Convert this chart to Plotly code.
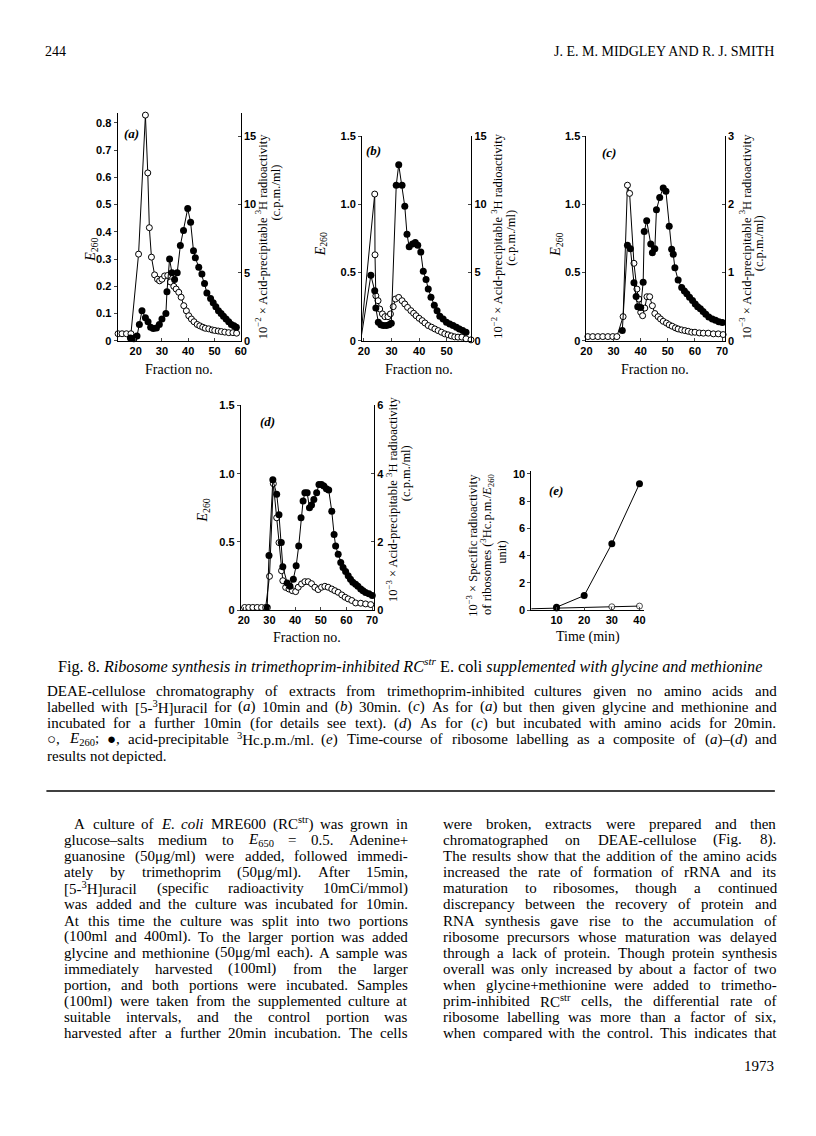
import re
import plotly.graph_objects as go

# ---------------- data ----------------
# (a) 10 min label: E260 (open) and 10^-2 x c.p.m./ml (filled)
frac_a_open = [13.3, 14.8, 16.5, 18.2, 21.1, 23.7, 24.6, 25.2, 26.0, 27.2, 28.3, 29.1, 30.0, 31.0,
               32.2, 33.2, 34.5, 35.4, 36.4, 37.3, 38.3, 39.3, 40.2, 41.2, 42.2, 43.4, 44.4, 45.5,
               46.5, 47.8, 49.1, 50.1, 51.4, 52.6, 53.9, 55.4, 57.0, 58.4]
e260_a = [0.026, 0.026, 0.026, 0.026, 0.318, 0.828, 0.616, 0.415, 0.307, 0.242, 0.226, 0.22, 0.226,
          0.238, 0.24, 0.216, 0.2, 0.19, 0.178, 0.16, 0.129, 0.11, 0.092, 0.08, 0.07, 0.06, 0.055,
          0.05, 0.046, 0.044, 0.04, 0.038, 0.036, 0.034, 0.032, 0.03, 0.03, 0.028]
frac_a_fill = [18.0, 19.3, 20.5, 21.4, 22.4, 23.7, 24.7, 25.7, 26.7, 27.9, 29.0, 30.0, 31.5, 31.9,
               32.9, 33.8, 34.8, 35.8, 37.0, 38.2, 39.8, 40.9, 42.0, 42.7, 44.0, 45.2, 46.2, 47.1,
               48.5, 49.5, 50.5, 51.5, 52.5, 53.4, 54.4, 55.4, 56.4, 57.4, 58.3]
cpm_a = [0.2, 0.15, 0.35, 1.2, 2.2, 1.7, 1.4, 1.0, 0.9, 0.95, 1.2, 1.6, 2.0, 3.6, 6.0, 5.0, 4.5, 5.0,
         7.0, 8.1, 9.7, 8.7, 6.6, 6.1, 5.4, 4.9, 4.2, 3.5, 3.1, 2.8, 2.5, 2.2, 2.0, 1.8, 1.6, 1.4,
         1.2, 1.1, 1.0]

# (b) 30 min label
frac_b_open = [18.9, 23.9, 24.0, 24.3, 25.1, 25.7, 26.7, 27.6, 28.7, 29.6, 30.6, 31.4, 32.6, 33.8,
               34.8, 35.8, 37.0, 38.0, 38.9, 40.0, 41.1, 42.1, 43.3, 44.5, 45.7, 46.9, 48.1, 49.3,
               50.5, 51.7, 52.9, 54.1, 55.5, 57.0, 58.8]
e260_b = [0.04, 1.075, 0.63, 0.33, 0.294, 0.233, 0.197, 0.177, 0.177, 0.197, 0.25, 0.306, 0.318,
          0.294, 0.27, 0.245, 0.221, 0.202, 0.184, 0.165, 0.148, 0.131, 0.112, 0.1, 0.087, 0.075,
          0.063, 0.051, 0.044, 0.036, 0.029, 0.027, 0.027, 0.015, 0.007]
frac_b_fill = [18.9, 22.5, 23.9, 24.3, 25.2, 26.1, 27.0, 28.1, 29.1, 29.9, 31.7, 32.6, 33.8, 34.8,
               35.6, 36.4, 37.6, 38.6, 39.5, 40.6, 41.5, 42.5, 43.3, 44.3, 45.5, 46.5, 47.5, 48.7,
               49.9, 51.1, 52.3, 53.5, 54.6, 55.8, 57.0]
cpm_b = [0.15, 4.8, 3.66, 2.4, 1.36, 1.17, 1.12, 1.12, 1.17, 1.29, 11.4, 12.9, 11.4, 9.85, 7.8, 6.9,
         7.1, 7.2, 7.0, 6.5, 5.1, 4.5, 3.8, 3.2, 2.6, 2.2, 1.8, 1.6, 1.36, 1.24, 1.12, 1.0, 0.87,
         0.75, 0.63]

# (c) glycine + methionine, 10 min
frac_c_open = [20.5, 22.3, 24.2, 26.0, 27.9, 29.7, 31.2, 33.5, 35.1, 35.9, 37.5, 38.6, 39.3, 40.0,
               40.7, 41.5, 42.3, 43.3, 44.3, 45.2, 46.4, 47.3, 48.3, 49.5, 50.5, 51.6, 52.8, 53.8,
               55.1, 56.3, 57.5, 58.8, 60.0, 61.6, 63.1, 64.9, 66.8, 68.6, 70.4]
e260_c = [0.031, 0.031, 0.031, 0.031, 0.031, 0.031, 0.031, 0.177, 1.14, 1.08, 0.568, 0.379, 0.306,
          0.209, 0.184, 0.24, 0.323, 0.323, 0.257, 0.2, 0.177, 0.16, 0.143, 0.13, 0.117, 0.107,
          0.095, 0.087, 0.08, 0.075, 0.07, 0.063, 0.063, 0.058, 0.056, 0.056, 0.051, 0.051, 0.046]
frac_c_fill = [33.2, 35.1, 36.2, 37.5, 38.3, 38.9, 40.0, 40.9, 41.3, 42.2, 43.7, 44.3, 45.2, 45.8,
               47.0, 48.3, 49.3, 50.5, 51.4, 52.0, 52.6, 53.8, 55.1, 56.1, 57.0, 58.0, 59.1, 60.1,
               61.0, 62.0, 63.0, 64.0, 65.1, 66.4, 67.6, 68.8, 70.1]
cpm_c = [0.15, 1.40, 1.35, 0.85, 0.65, 0.5, 0.49, 0.86, 1.6, 1.76, 1.42, 1.29, 1.35, 1.92, 2.1, 2.24,
         2.19, 1.68, 1.34, 1.27, 1.07, 0.89, 0.78, 0.73, 0.69, 0.64, 0.59, 0.54, 0.5, 0.47, 0.43,
         0.39, 0.35, 0.32, 0.3, 0.28, 0.27]

# (d) glycine + methionine, 20 min
frac_d_open = [18.7, 20.3, 21.9, 23.5, 25.2, 26.9, 28.5, 30.0, 31.5, 32.8, 33.7, 34.7, 35.2, 36.3,
               37.6, 38.9, 40.2, 41.2, 42.5, 43.8, 45.1, 46.4, 47.7, 49.0, 50.3, 51.6, 52.9, 54.3,
               55.5, 56.8, 58.2, 59.5, 60.7, 62.1, 63.6, 65.6, 67.5, 69.5]
e260_d = [0.02, 0.02, 0.02, 0.02, 0.02, 0.02, 0.02, 0.248, 0.927, 0.677, 0.495, 0.289, 0.216, 0.167,
          0.155, 0.143, 0.136, 0.168, 0.192, 0.209, 0.209, 0.194, 0.168, 0.151, 0.168, 0.175, 0.168,
          0.155, 0.143, 0.131, 0.112, 0.095, 0.083, 0.071, 0.053, 0.051, 0.046, 0.041]
frac_d_fill = [29.1, 29.8, 31.3, 32.8, 33.7, 34.6, 35.2, 36.9, 38.0, 39.3, 40.4, 41.4, 42.3, 43.1,
               43.8, 44.7, 45.6, 46.4, 47.3, 48.4, 49.3, 50.3, 51.2, 52.2, 53.1, 54.3, 55.2, 55.8,
               56.8, 57.8, 58.7, 59.7, 60.7, 61.6, 62.5, 63.6, 64.5, 65.6, 66.5, 67.5, 68.8, 70.1]
cpm_d = [0.08, 1.6, 3.82, 3.4, 2.8, 1.98, 1.27, 0.8, 0.7, 0.91, 1.3, 1.88, 2.71, 3.2, 3.44, 3.44, 3.0,
         3.08, 3.24, 3.44, 3.68, 3.68, 3.64, 3.56, 3.52, 2.9, 2.22, 1.88, 1.64, 1.4, 1.25, 1.13,
         1.01, 0.91, 0.82, 0.76, 0.7, 0.62, 0.57, 0.52, 0.48, 0.43]

# (e) specific radioactivity of ribosomes vs time
time_e_fill = [10, 20, 30, 40]
spec_e_fill = [0.22, 1.07, 4.87, 9.26]
time_e_open = [0, 10, 30, 40]
spec_e_open = [0.1, 0.15, 0.25, 0.3]

# the page body keeps its 8px default margin; keep the page shorter than the window
OFF = 8
W, H = 816 - 2 * OFF, 1100
# small stretch so the printed page spans the same width as the scan
SX, BX = 0.983, 7.8
SY, BY = 0.9951, 0.23
SERIF = "Liberation Serif"
TICKFONT = dict(family="Liberation Sans", size=11, color="black", weight="bold")


def page_x(px):
    return (px - BX) / SX


def fx(px):
    return (page_x(px) - OFF) / W


def fy(py):
    return 1 - ((py - BY) / SY - OFF) / H


panels = [
    dict(xs=(119, 242), ys=(337, 108), xr=[13.1, 60], xt=[20, 30, 40, 50, 60],
         yr=[0, 0.835], yt=[0, 0.1, 0.2, 0.3, 0.4, 0.5, 0.6, 0.7, 0.8],
         ytt=["0", "0.1", "0.2", "0.3", "0.4", "0.5", "0.6", "0.7", "0.8"],
         y2r=[0, 16.7], y2t=[0, 5, 10, 15],
         data=(frac_a_open, e260_a, frac_a_fill, cpm_a)),
    dict(xs=(363, 472), ys=(337, 131), xr=[19.3, 58.9], xt=[20, 30, 40, 50, 60],
         yr=[0, 1.5], yt=[0, 0.5, 1.0, 1.5], ytt=["0", "0.5", "1.0", "1.5"],
         y2r=[0, 15], y2t=[0, 5, 10, 15],
         data=(frac_b_open, e260_b, frac_b_fill, cpm_b)),
    dict(xs=(587, 725), ys=(337, 131), xr=[20, 71], xt=[20, 30, 40, 50, 60, 70],
         yr=[0, 1.5], yt=[0, 0.5, 1.0, 1.5], ytt=["0", "0.5", "1.0", "1.5"],
         y2r=[0, 3], y2t=[0, 1, 2, 3],
         data=(frac_c_open, e260_c, frac_c_fill, cpm_c)),
    dict(xs=(242, 375), ys=(608, 402), xr=[18.8, 70.8], xt=[20, 30, 40, 50, 60, 70],
         yr=[0, 1.5], yt=[0, 0.5, 1.0, 1.5], ytt=["0", "0.5", "1.0", "1.5"],
         y2r=[0, 6], y2t=[0, 2, 4, 6],
         data=(frac_d_open, e260_d, frac_d_fill, cpm_d)),
]

OPEN = dict(symbol="circle", size=6, color="white", line=dict(color="black", width=1))
FILLED = dict(symbol="circle", size=7, color="black")
LINE = dict(color="black", width=1)

fig = go.Figure()
layout = {}


def axname(kind, n):
    return kind + ("" if n == 1 else str(n))


for i, p in enumerate(panels):
    xn, yl, yr = i + 1, 2 * i + 1, 2 * i + 2
    fo, eo, ff, cf = p["data"]
    fig.add_trace(go.Scatter(x=ff, y=cf, xaxis=axname("x", xn), yaxis=axname("y", yr),
                             mode="lines+markers", line=LINE, marker=FILLED,
                             cliponaxis=False, showlegend=False))
    fig.add_trace(go.Scatter(x=fo, y=eo, xaxis=axname("x", xn), yaxis=axname("y", yl),
                             mode="lines+markers", line=LINE, marker=OPEN,
                             cliponaxis=False, showlegend=False))
    layout[axname("xaxis", xn)] = dict(
        domain=[fx(p["xs"][0]), fx(p["xs"][1])], range=p["xr"], anchor=axname("y", yl),
        tickvals=p["xt"], ticks="inside", ticklen=3, showline=True, linecolor="black",
        linewidth=1, showgrid=False, zeroline=False, tickfont=TICKFONT)
    layout[axname("yaxis", yl)] = dict(
        domain=[fy(p["ys"][0]), fy(p["ys"][1])], range=p["yr"], anchor=axname("x", xn),
        tickvals=p["yt"], ticktext=p["ytt"], ticks="outside", ticklen=3, showline=True,
        linecolor="black", linewidth=1, showgrid=False, zeroline=False, tickfont=TICKFONT)
    layout[axname("yaxis", yr)] = dict(
        overlaying=axname("y", yl), side="right", anchor=axname("x", xn), range=p["y2r"],
        tickvals=p["y2t"], ticks="inside", ticklen=3, showline=True, linecolor="black",
        linewidth=1, showgrid=False, zeroline=False, tickfont=TICKFONT)

# panel (e)
fig.add_trace(go.Scatter(x=time_e_open, y=spec_e_open, xaxis="x5", yaxis="y9",
                         mode="lines+markers", line=LINE,
                         marker=dict(OPEN, size=[0, 6, 6, 6]), cliponaxis=False,
                         showlegend=False))
fig.add_trace(go.Scatter(x=time_e_fill, y=spec_e_fill, xaxis="x5", yaxis="y9",
                         mode="lines+markers", line=LINE, marker=FILLED, cliponaxis=False,
                         showlegend=False))
layout["xaxis5"] = dict(domain=[fx(532), fx(644)], range=[0.9, 41.5], anchor="y9",
                        tickvals=[10, 20, 30, 40], ticks="inside", ticklen=3, showline=True,
                        linecolor="black", linewidth=1, showgrid=False, zeroline=False,
                        tickfont=TICKFONT)
layout["yaxis9"] = dict(domain=[fy(608), fy(468)], range=[0, 10.2], anchor="x5",
                        tickvals=[0, 2, 4, 6, 8, 10], ticks="outside", ticklen=3,
                        showline=True, linecolor="black", linewidth=1, showgrid=False,
                        zeroline=False, tickfont=TICKFONT)

notes = []


def note(text, x, y, size=14, angle=0, xanchor="center", yanchor="middle", family=SERIF):
    notes.append(dict(text=text, x=fx(x), y=fy(y), xref="paper", yref="paper",
                      showarrow=False, textangle=angle, xanchor=xanchor, yanchor=yanchor,
                      align=xanchor if xanchor != "center" else "center", borderpad=0,
                      font=dict(family=family, size=size, color="black")))


# Times Roman advance widths (per 1000 em) to spread words over a justified line
TW = {" ": 250, "!": 333, "(": 333, ")": 333, "+": 564, ",": 250, "-": 333, ".": 250, "/": 278,
      ":": 278, ";": 278, "=": 564, "[": 333, "]": 333, "–": 500, "−": 564, "×": 564, "μ": 576,
      "○": 600, "●": 600,
      "A": 722, "B": 667, "C": 667, "D": 722, "E": 611, "F": 556, "G": 722, "H": 722, "I": 333,
      "J": 389, "K": 722, "L": 611, "M": 889, "N": 722, "O": 722, "P": 556, "Q": 722, "R": 667,
      "S": 556, "T": 611, "U": 722, "V": 722, "W": 944, "X": 722, "Y": 722, "Z": 611,
      "a": 444, "b": 500, "c": 444, "d": 500, "e": 444, "f": 333, "g": 500, "h": 500, "i": 278,
      "j": 278, "k": 500, "l": 278, "m": 778, "n": 500, "o": 500, "p": 500, "q": 500, "r": 333,
      "s": 389, "t": 278, "u": 500, "v": 500, "w": 722, "x": 500, "y": 500, "z": 444}


def text_width(s, size):
    w, scale = 0.0, 1.0
    for part in re.split(r"(<[^>]+>)", s):
        if part.startswith("<"):
            scale = 0.7 if part in ("<sup>", "<sub>") else (1.0 if part in ("</sup>", "</sub>") else scale)
            continue
        w += sum(TW.get(ch, 500) for ch in part) * scale
    return w * size / 1000


def justified(line, x0, x1, y, size, ragged=False):
    words = line.split(" ")
    widths = [text_width(w, size) for w in words]
    p0, p1 = page_x(x0), page_x(x1)
    gap = 0.25 * size
    if not ragged and len(words) > 1:
        gap = (p1 - p0 - sum(widths)) / (len(words) - 1)
    p = p0
    for w, wd in zip(words, widths):
        note(w, p * SX + BX, y, size, xanchor="left")
        p += wd + gap


# page header
note("244", 46, 46, 14, xanchor="left")
note("J. E. M. MIDGLEY AND R. J. SMITH", 775, 46, 14, xanchor="right")

# panel letters
for lab, x, y in [("a", 133, 128), ("b", 374, 146), ("c", 609, 148), ("d", 269, 418),
                  ("e", 557, 488)]:
    note(f"<b><i>({lab})</i></b>", x, y, 13)

# axis titles
for x, y in [(93, 245), (322, 240), (557, 240), (205, 508)]:
    note("<i>E</i><sub>260</sub>", x, y, 14, angle=-90)
for x1, x2, y1, y2, p in [(263, 277, 232, 188, 2), (498, 512, 232, 233, 2),
                          (746, 760, 232, 239, 3), (393, 407, 497, 470, 3)]:
    note(f"10<sup>−{p}</sup> × Acid-precipitable <sup>3</sup>H radioactivity", x1, y1, 12.5,
         angle=-90)
    note("(c.p.m./ml)", x2, y2, 12.5, angle=-90)
note("10<sup>−3</sup> × Specific radioactivity", 472, 543, 12.5, angle=-90)
note("of ribosomes (<sup>3</sup>Hc.p.m./<i>E</i><sub>260</sub>", 487, 542, 12.5, angle=-90)
note("unit)", 502, 549, 12.5, angle=-90)
for x, y in [(180, 366), (420, 366), (655, 366), (308, 635)]:
    note("Fraction no.", x, y, 14)
note("Time (min)", 588, 635, 14)

# caption
note("Fig. 8. <i>Ribosome synthesis in trimethoprim-inhibited RC<sup>str</sup></i> E. coli "
     "<i>supplemented with glycine and methionine</i>", 411, 664, 16.2)
caption = [
    "DEAE-cellulose chromatography of extracts from trimethoprim-inhibited cultures given no amino acids and",
    "labelled with [5-<sup>3</sup>H]uracil for (<i>a</i>) 10min and (<i>b</i>) 30min. (<i>c</i>) As for (<i>a</i>) but then given glycine and methionine and",
    "incubated for a further 10min (for details see text). (<i>d</i>) As for (<i>c</i>) but incubated with amino acids for 20min.",
    "○, <i>E</i><sub>260</sub>; ●, acid-precipitable <sup>3</sup>Hc.p.m./ml. (<i>e</i>) Time-course of ribosome labelling as a composite of (<i>a</i>)–(<i>d</i>) and",
    "results not depicted.",
]
for k, line in enumerate(caption):
    justified(line, 48, 775, 689 + 16.3 * k, 15, ragged=(k == len(caption) - 1))

left_col = [
    "A culture of <i>E.</i> <i>coli</i> MRE600 (RC<sup>str</sup>) was grown in",
    "glucose–salts medium to <i>E</i><sub>650</sub> = 0.5. Adenine+",
    "guanosine (50μg/ml) were added, followed immedi-",
    "ately by trimethoprim (50μg/ml). After 15min,",
    "[5-<sup>3</sup>H]uracil (specific radioactivity 10mCi/mmol)",
    "was added and the culture was incubated for 10min.",
    "At this time the culture was split into two portions",
    "(100ml and 400ml). To the larger portion was added",
    "glycine and methionine (50μg/ml each). A sample was",
    "immediately harvested (100ml) from the larger",
    "portion, and both portions were incubated. Samples",
    "(100ml) were taken from the supplemented culture at",
    "suitable intervals, and the control portion was",
    "harvested after a further 20min incubation. The cells",
]
right_col = [
    "were broken, extracts were prepared and then",
    "chromatographed on DEAE-cellulose (Fig. 8).",
    "The results show that the addition of the amino acids",
    "increased the rate of formation of rRNA and its",
    "maturation to ribosomes, though a continued",
    "discrepancy between the recovery of protein and",
    "RNA synthesis gave rise to the accumulation of",
    "ribosome precursors whose maturation was delayed",
    "through a lack of protein. Though protein synthesis",
    "overall was only increased by about a factor of two",
    "when glycine+methionine were added to trimetho-",
    "prim-inhibited RC<sup>str</sup> cells, the differential rate of",
    "ribosome labelling was more than a factor of six,",
    "when compared with the control. This indicates that",
]
for k, line in enumerate(left_col):
    justified(line, 75 if k == 0 else 65, 407, 823 + 16.2 * k, 15)
for k, line in enumerate(right_col):
    justified(line, 443, 775, 823 + 16.2 * k, 15)
note("1973", 775, 1067, 15, xanchor="right")

fig.update_layout(
    width=W, height=H, autosize=False, margin=dict(l=0, r=0, t=0, b=0),
    paper_bgcolor="white", plot_bgcolor="rgba(0,0,0,0)",
    annotations=notes,
    shapes=[dict(type="line", xref="paper", yref="paper", x0=fx(48), x1=fx(775),
                 y0=fy(790), y1=fy(790), line=dict(color="black", width=1.5))],
    **layout,
)

fig.write_html("out.html")
